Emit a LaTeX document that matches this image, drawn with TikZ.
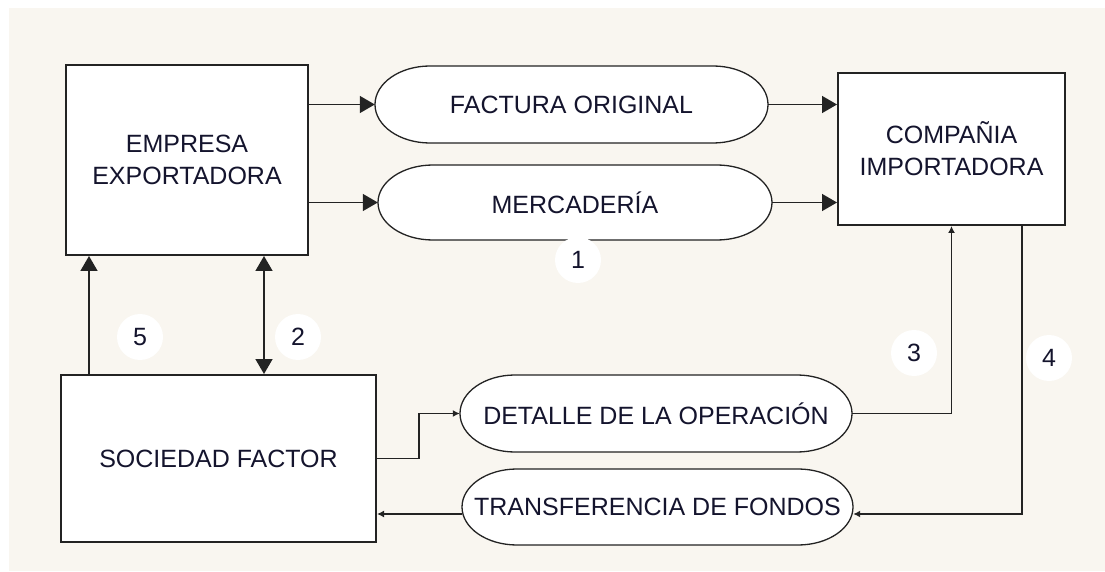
\documentclass[tikz,border=0pt]{standalone}
\usepackage{fontspec}
\setmainfont{Liberation Sans}
\usetikzlibrary{arrows.meta}

\definecolor{fondo}{RGB}{249,246,240}
\definecolor{linea}{RGB}{35,35,35}
\definecolor{texto}{RGB}{20,20,45}

\tikzset{
	caja/.style={draw=linea, line width=2pt, fill=white, align=center, text=texto,
		font=\fontsize{25}{32}\selectfont},
	flujo/.style={inner sep=0pt, text=texto, font=\fontsize{25}{30}\selectfont},
	borde/.style={draw=linea, line width=1.3pt, fill=white},
	num/.style={circle, fill=white, minimum size=46pt, inner sep=0pt, text=texto,
		font=\fontsize{25}{30}\selectfont},
	flecha/.style={draw=linea, line width=1.5pt, -{Triangle[length=15pt,width=17pt]}},
	flechita/.style={draw=linea, line width=1.5pt, -{Latex[length=7pt,width=7pt]}}
}

\begin{document}
\begin{tikzpicture}[x=1pt, y=1pt]
	\useasboundingbox (0,0) rectangle (1105,571);
	\fill[white] (0,0) rectangle (1105,571);
	\fill[fondo] (9,0) rectangle (1105,563);

	\pgfmathsetmacro{\ra}{55}

	% Cajas
	\node[caja, minimum width=242pt, minimum height=190pt] (emp) at (187,411) {EMPRESA\\EXPORTADORA};
	\node[caja, minimum width=227pt, minimum height=152pt] (com) at (951.5,422) {COMPAÑIA\\IMPORTADORA};
	\node[caja, minimum width=315pt, minimum height=167pt] (soc) at (218.5,112.5) {SOCIEDAD FACTOR};

	% Flujos
	\coordinate (fac) at (571.5,466.5);
	\coordinate (mer) at (575,368.5);
	\coordinate (det) at (656,157.5);
	\coordinate (tra) at (657.5,64);
	\foreach \c/\w/\h in {fac/393/77, mer/394/75, det/392/77, tra/391/76}
	{
	\draw[borde] ([shift={(-\w/2+\ra,\h/2)}]\c) -- ([shift={(\w/2-\ra,\h/2)}]\c)
		arc[start angle=90, end angle=-90, x radius=\ra, y radius=\h/2]
		-- ([shift={(-\w/2+\ra,-\h/2)}]\c)
		arc[start angle=270, end angle=90, x radius=\ra, y radius=\h/2] -- cycle;
	}
	\node[flujo, minimum width=393pt, minimum height=77pt] (facn) at (fac) {FACTURA ORIGINAL};
	\node[flujo, minimum width=394pt, minimum height=75pt] (mern) at (mer) {MERCADERÍA};
	\node[flujo, minimum width=392pt, minimum height=77pt] (detn) at (det) {DETALLE DE LA OPERACIÓN};
	\node[flujo, minimum width=391pt, minimum height=76pt] (tran) at (tra) {TRANSFERENCIA DE FONDOS};

	% Conectores
	\draw[flecha] (facn.west -| emp.east) -- (facn.west);
	\draw[flecha] (mern.west -| emp.east) -- (mern.west);
	\draw[flecha] (facn.east) -- (facn.east -| com.west);
	\draw[flecha] (mern.east) -- (mern.east -| com.west);
	\draw[flecha] ([xshift=29pt]soc.north west) -- ([xshift=29pt]soc.north west |- emp.south);
	\draw[flecha, {Triangle[length=15pt,width=17pt]}-{Triangle[length=15pt,width=17pt]}]
		([xshift=-45pt]emp.south east) -- ([xshift=-45pt]emp.south east |- soc.north);
	\draw[flechita] (soc.east) -- ++(42pt,0) |- (detn.west);
	\draw[flechita] (detn.east) -| (com.south);
	\draw[flechita] ([xshift=-44pt]com.south east) |- ([yshift=-7pt]tran.east);
	\draw[flechita] ([yshift=-7pt]tran.west) -- ([yshift=-7pt]tran.west -| soc.east);

	% Numeros
	\node[num] (n1) at (578,311) {1};
	\node[num] (n2) at (298,234) {2};
	\node[num] (n3) at (914,218) {3};
	\node[num] (n4) at (1049,213) {4};
	\node[num] (n5) at (140,234) {5};
\end{tikzpicture}
\end{document}
